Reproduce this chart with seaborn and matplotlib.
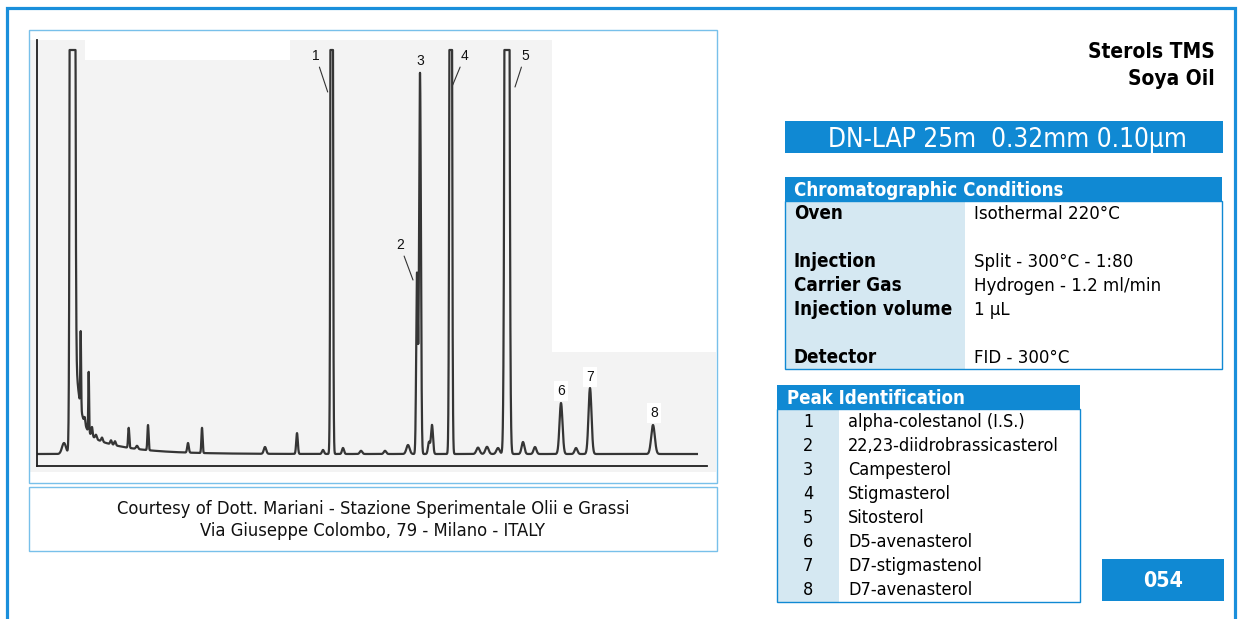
import numpy as np
import pandas as pd
import matplotlib
matplotlib.use("Agg")
import matplotlib.pyplot as plt
from matplotlib.patches import Rectangle
from matplotlib import font_manager
from matplotlib.font_manager import FontProperties
import seaborn as sns

# ---------------- data ----------------
# labelled peaks (retention in arbitrary minutes, height in % full scale, sigma in minutes)
peak_no = ["1", "2", "3", "4", "5", "6", "7", "8"]
peak_names = ["alpha-colestanol (I.S.)", "22,23-diidrobrassicasterol", "Campesterol",
              "Stigmasterol", "Sitosterol", "D5-avenasterol", "D7-stigmastenol",
              "D7-avenasterol"]
peak_rt = [14.735, 19.0, 19.15, 20.685, 23.5, 26.2, 27.65, 30.8]
peak_height = [400.0, 45.0, 95.25, 350.0, 600.0, 12.75, 16.5, 7.25]
peak_sigma = [0.04, 0.04, 0.045, 0.045, 0.07, 0.075, 0.075, 0.09]

# solvent peak and its tail
solvent_rt = 1.775
solvent_height = 2000.0
solvent_sigma = 0.06
tail_amp = [34.0, 6.3]
tail_tau = [0.25, 2.0]

# minor unlabelled peaks
minor_rt = [1.35, 2.185, 2.385, 2.585, 2.75, 2.95, 3.25, 3.7, 3.9, 4.585, 5.0, 5.55,
            7.55, 8.25, 11.4, 13.0, 14.3, 15.3, 16.2, 17.4, 18.55, 19.6, 19.75,
            22.05, 22.5, 23.05, 24.3, 24.9, 26.95]
minor_height = [2.75, 19.0, 1.6, 15.0, 2.2, 1.0, 1.0, 1.0, 1.0, 5.0, 0.8, 6.3,
                2.4, 6.3, 1.7, 5.2, 1.0, 1.5, 0.8, 0.8, 2.25, 3.0, 7.25,
                1.6, 1.8, 1.5, 3.0, 1.75, 1.5]
minor_sigma = [0.1, 0.02, 0.03, 0.02, 0.03, 0.04, 0.04, 0.04, 0.04, 0.03, 0.05, 0.03,
               0.04, 0.03, 0.06, 0.04, 0.05, 0.05, 0.06, 0.06, 0.08, 0.05, 0.05,
               0.08, 0.08, 0.08, 0.07, 0.07, 0.07]

full_scale = 101.0
run_end = 33.0

title_lines = ["Sterols TMS", "Soya Oil"]
column_text = "DN-LAP 25m  0.32mm 0.10\u00b5m"
cond_header = "Chromatographic Conditions"
cond_labels = ["Oven", "Injection", "Carrier Gas", "Injection volume", "Detector"]
cond_values = ["Isothermal 220\u00b0C", "Split - 300\u00b0C - 1:80",
               "Hydrogen - 1.2 ml/min", "1 \u00b5L", "FID - 300\u00b0C"]
peak_header = "Peak Identification"
sheet_no = "054"
credit_lines = ["Courtesy of Dott. Mariani - Stazione Sperimentale Olii e Grassi",
                "Via Giuseppe Colombo, 79 - Milano - ITALY"]

# ---------------- build trace from the peak list ----------------
rt = np.arange(0.0, run_end, 0.005)
signal = np.zeros_like(rt)
for r, h, s in zip(peak_rt + minor_rt + [solvent_rt],
                   peak_height + minor_height + [solvent_height],
                   peak_sigma + minor_sigma + [solvent_sigma]):
    signal += h * np.exp(-0.5 * ((rt - r) / s) ** 2)
dt = rt - solvent_rt
for a, tau in zip(tail_amp, tail_tau):
    signal += np.where(dt > 0, a * np.exp(-np.clip(dt, 0, None) / tau), 0.0)
signal = np.minimum(signal, full_scale)
df = pd.DataFrame({"rt": rt, "signal": signal})

# ---------------- styling ----------------
W, H = 1242, 619
BLUE = "#1089d3"
OUTER = "#1a8fdb"
LIGHT_BORDER = "#78c0ea"
COL_BG = "#d5e8f2"
SCAN_BG = "#f3f3f3"
TRACE = "#353535"

ttf = font_manager.fontManager.ttflist
def by_file(*keys):
    for k in keys:
        for f in ttf:
            base = f.fname.split("/")[-1].lower()
            if base == k.lower():
                return FontProperties(fname=f.fname)
    return None

def by_name(names, weight="normal"):
    fams = {f.name for f in ttf}
    for n in names:
        if n in fams:
            return FontProperties(family=n, weight=weight)
    return FontProperties(family="DejaVu Sans", weight=weight)

cond_reg = by_file("DejaVuSansCondensed.ttf")
cond_bold = by_file("DejaVuSansCondensed-Bold.ttf")
HAVE_COND = cond_reg is not None and cond_bold is not None
F_REG = cond_reg if HAVE_COND else by_name(["DejaVu Sans"])
F_BOLD = cond_bold if HAVE_COND else by_name(["DejaVu Sans"], "bold")
F_ARIAL = by_name(["Liberation Sans", "DejaVu Sans"])
slack = 1.0 if HAVE_COND else 1.06

fig = plt.figure(figsize=(W / 100, H / 100), dpi=100)
fig.patch.set_facecolor("white")

def fx(x):
    return x / W

def fy(y):
    return 1 - y / H

def box(x0, y0, x1, y1, **kw):
    r = Rectangle((fx(x0), fy(y1)), (x1 - x0) / W, (y1 - y0) / H,
                  transform=fig.transFigure, **kw)
    fig.add_artist(r)
    return r

def txt(x, y, s, fp, size, **kw):
    t = fig.text(fx(x), fy(y), s, fontproperties=fp.copy(), **kw)
    t.set_fontsize(size)
    return t

def fit(texts, ref, width):
    rend = fig.canvas.get_renderer()
    for _ in range(2):
        w = ref.get_window_extent(rend).width
        size = ref.get_fontsize() * width / w
        for t in texts:
            t.set_fontsize(size)

# outer frame
box(7, 8, 1235, 720, facecolor="none", edgecolor=OUTER, linewidth=2.3, zorder=2)

# chromatogram frame and scan background
box(30, 40, 716, 472, facecolor=SCAN_BG, edgecolor="none", zorder=-3)
box(85, 40, 290, 60, facecolor="white", edgecolor="none", zorder=-2)
box(552, 31, 716, 352, facecolor="white", edgecolor="none", zorder=-2)
box(29, 30, 717, 483, facecolor="none", edgecolor=LIGHT_BORDER, linewidth=1.0, zorder=2)
box(29, 487, 717, 551, facecolor="none", edgecolor=LIGHT_BORDER, linewidth=1.0, zorder=2)

# chromatogram axes
ax = fig.add_axes([fx(37), fy(466), (707 - 37) / W, (466 - 40) / H])
ax.set_facecolor("none")
sns.lineplot(data=df, x="rt", y="signal", ax=ax, color=TRACE, linewidth=1.6,
             estimator=None, sort=False)
ax.set_xlim(0, 33.5)
ax.set_ylim(-3, 103.5)
ax.set_xticks([])
ax.set_yticks([])
ax.set_xlabel("")
ax.set_ylabel("")
sns.despine(ax=ax)
for side in ("left", "bottom"):
    ax.spines[side].set_color("#1e1e1e")
    ax.spines[side].set_linewidth(1.3)

# peak labels: offsets (px) from leader-line target or from peak top
label_with_line = [True, True, False, True, True, False, False, False]
label_boxed = [False, False, False, False, False, True, True, True]
line_target = [(-0.2, 90.5), (-0.2, 43.5), None, (0.1, 92.25), (0.4, 91.75), None, None, None]
label_offset_px = [(-12, 36), (-13, 35), (0.7, 12), (12, 29), (10, 31), (0, 12), (0, 11), (1, 12)]
for i, no in enumerate(peak_no):
    top = min(peak_height[i], full_scale)
    ox, oy = label_offset_px[i]
    kw = dict(textcoords="offset points", ha="center", va="center", fontsize=10,
              fontproperties=F_ARIAL, color="#111")
    if label_with_line[i]:
        tx, ty = line_target[i]
        a = ax.annotate(no, xy=(peak_rt[i] + tx, ty), xytext=(ox * 0.72, oy * 0.72),
                        arrowprops=dict(arrowstyle="-", color="#333", lw=0.8,
                                        shrinkA=1, shrinkB=0), **kw)
    else:
        a = ax.annotate(no, xy=(peak_rt[i], top), xytext=(ox * 0.72, oy * 0.72), **kw)
        if label_boxed[i]:
            a.set_bbox(dict(boxstyle="square,pad=0.25", fc="white", ec="none"))
    a.set_fontsize(10)

# credit caption
cap = [txt(373, 514, credit_lines[0], F_REG, 12, ha="center", va="baseline", color="#111"),
       txt(373, 536.5, credit_lines[1], F_REG, 12, ha="center", va="baseline", color="#111")]
fit(cap, cap[0], 512 * (1.0 if HAVE_COND else 0.95))

# title
tl = [txt(1215, 58.3, title_lines[0], F_BOLD, 14, ha="right", va="baseline", color="black"),
      txt(1215, 85, title_lines[1], F_BOLD, 14, ha="right", va="baseline", color="black")]
fit(tl, tl[0], 127 * slack)

# column banner
box(785, 121, 1223, 153, facecolor=BLUE, edgecolor="none", zorder=1)
bt = txt(1007, 147, column_text, F_REG, 18, ha="center", va="baseline", color="white")
fit([bt], bt, 359 * slack)

# chromatographic conditions table
box(785, 177, 1222, 201, facecolor=BLUE, edgecolor="none", zorder=1)
box(785, 201, 965, 369, facecolor=COL_BG, edgecolor="none", zorder=1)
box(785, 201, 1222, 369, facecolor="none", edgecolor=BLUE, linewidth=1.0, zorder=1.5)
h1 = txt(794, 196, cond_header, F_BOLD, 12, ha="left", va="baseline", color="white")
cond_row = [0, 2, 3, 4, 6]
labs, vals = [], []
for lab, val, row in zip(cond_labels, cond_values, cond_row):
    yb = 219.3 + 24 * row
    labs.append(txt(794, yb, lab, F_BOLD, 12, ha="left", va="baseline", color="black"))
    vals.append(txt(974, yb, val, F_REG, 12, ha="left", va="baseline", color="black"))
fit(labs, labs[3], 159 * min(slack, 1.04))
fit(vals, vals[2], 187 * slack)

# peak identification table
box(777, 385, 1080, 409, facecolor=BLUE, edgecolor="none", zorder=1)
box(777, 409, 839, 602, facecolor=COL_BG, edgecolor="none", zorder=1)
box(777, 409, 1080, 602, facecolor="none", edgecolor=BLUE, linewidth=1.0, zorder=1.5)
h2 = txt(787, 404.3, peak_header, F_BOLD, 12, ha="left", va="baseline", color="white")
fit([h1, h2], h1, 268 * slack)
nums, names = [], []
for i, (no, nm) in enumerate(zip(peak_no, peak_names)):
    yb = 427.3 + 24.0 * i
    nums.append(txt(808, yb, no, F_REG, 12, ha="center", va="baseline", color="black"))
    names.append(txt(848, yb, nm, F_REG, 12, ha="left", va="baseline", color="black"))
fit(names, names[1], 210 * slack)
for t in nums:
    t.set_fontsize(names[0].get_fontsize())

# sheet number
box(1102, 559, 1224, 601, facecolor=BLUE, edgecolor="none", zorder=1)
sn = txt(1163, 586.7, sheet_no, F_BOLD, 13, ha="center", va="baseline", color="white")
fit([sn], sn, 40 * slack)

fig.savefig("out.png", dpi=100, facecolor="white")
